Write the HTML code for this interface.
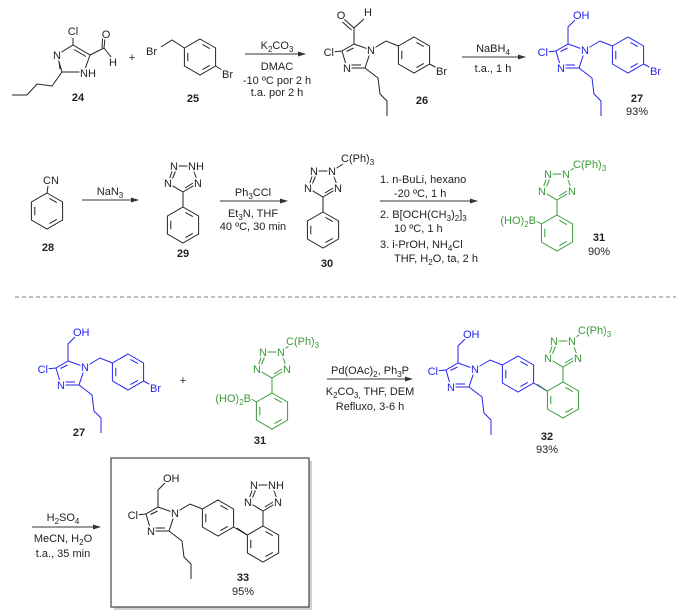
<!DOCTYPE html>
<html><head><meta charset="utf-8"><style>
html,body{margin:0;padding:0;background:#fff;}
svg{display:block;font-family:"Liberation Sans",Arial,sans-serif;}
.t{font-size:11px;fill:#222;}
.b{font-size:11px;font-weight:bold;fill:#222;}
.l{font-size:11px;stroke:#fff;stroke-width:3px;paint-order:stroke;fill:currentColor;}
.s{font-size:8px;}
</style></head><body>
<svg width="678" height="614" viewBox="0 0 678 614" xmlns="http://www.w3.org/2000/svg">
<defs>
<path id="hex" fill="none" stroke="currentColor" stroke-width="1" d="M0,-18 L15.6,-9 L15.6,9 L0,18 L-15.6,9 L-15.6,-9Z M2.4,-12.6 L9.8,-8.4 M9.8,8.4 L2.4,12.6 M-12.2,4.2 L-12.2,-4.2"/>
<g id="imcore" fill="none" stroke="currentColor" stroke-width="1">
<path d="M0,0 L17,6 L11,24 L-7,24 L-12,7 Z M-7.5,7.5 L-0.5,4 M7,21 L-3,21 M-12,7 L-22,8 M17,6 L32,-3 L44.4,2 M11,24 L24,34 L26,50 L33,57 L33,72"/>
<use href="#hex" x="60" y="11"/>
</g>
<g id="tet" fill="none" stroke="currentColor" stroke-width="1">
<path d="M0,0 L15,-9 L9,-26 L-9,-26 L-15,-9 Z M-11.5,-11 L-7,-22 M2,-4 L10,-9 M0,0 L0,15"/>
<use href="#hex" x="0" y="33"/>
</g>
<marker id="ar" markerWidth="8" markerHeight="6" refX="7" refY="3" orient="auto" markerUnits="userSpaceOnUse"><path d="M0,0.5 L8,3 L0,5.5Z" fill="#333"/></marker>
</defs>

<!-- 24 -->
<g color="#222" fill="none" stroke="#222" stroke-width="1">
<path d="M73,45 L90,55 L84,72 L62,72 L57,55 Z M74,49.5 L86,56.5 M60,69 L58.5,58 M73,45 L73,38 M90,55 L104,48 L105,38 M102,48 L102.5,38.5 M104,48 L111,57 M62,72 L52,86 L37,84 L27,95 L12,95"/>
</g>
<text class="l" x="73" y="35" text-anchor="middle" color="#222">Cl</text>
<text class="l" x="57" y="59" text-anchor="middle" color="#222">N</text>
<text class="l" x="80" y="77" color="#222">NH</text>
<text class="l" x="106" y="38" text-anchor="middle" color="#222">O</text>
<text class="l" x="113" y="66" text-anchor="middle" color="#222">H</text>
<text class="b" x="78" y="101" text-anchor="middle">24</text>
<text class="t" x="132" y="61" text-anchor="middle">+</text>

<!-- 25 -->
<g color="#222"><use href="#hex" x="200" y="57"/>
<path d="M161,47 L172,40 L184.4,48 M215.6,66 L222,70" stroke="#222" fill="none"/></g>
<text class="l" x="146" y="55" color="#222">Br</text>
<text class="l" x="222" y="78" color="#222">Br</text>
<text class="b" x="193" y="102" text-anchor="middle">25</text>

<line x1="245" y1="54" x2="305" y2="54" stroke="#333" marker-end="url(#ar)"/>
<text class="t" x="277" y="49" text-anchor="middle">K<tspan class="s" dy="3">2</tspan><tspan dy="-3">CO</tspan><tspan class="s" dy="3">3</tspan></text>
<text class="t" x="277" y="70" text-anchor="middle">DMAC</text>
<text class="t" x="277" y="84" text-anchor="middle">-10 ºC por 2 h</text>
<text class="t" x="277" y="96" text-anchor="middle">t.a. por 2 h</text>

<!-- 26 -->
<g transform="translate(354,44)" color="#222">
<use href="#imcore"/>
<path d="M0,0 L0,-16 L-10,-25 M-2.5,-14 L-11.5,-22 M0,-16 L10,-25 M75.6,20 L83,24" stroke="#222" fill="none"/>
<text class="l" x="17" y="10" text-anchor="middle">N</text>
<text class="l" x="-7" y="28" text-anchor="middle">N</text>
<text class="l" x="-20" y="12" text-anchor="end">Cl</text>
<text class="l" x="-13" y="-25" text-anchor="middle">O</text>
<text class="l" x="14" y="-28" text-anchor="middle">H</text>
<text class="l" x="82" y="31">Br</text>
</g>
<text class="b" x="422" y="104" text-anchor="middle">26</text>

<line x1="462" y1="57" x2="525" y2="57" stroke="#333" marker-end="url(#ar)"/>
<text class="t" x="493" y="52" text-anchor="middle">NaBH<tspan class="s" dy="3">4</tspan></text>
<text class="t" x="493" y="72" text-anchor="middle">t.a., 1 h</text>

<!-- 27 top -->
<g transform="translate(568,44)" color="#2424ee">
<use href="#imcore"/>
<path d="M0,0 L0,-17 L7,-24 M75.6,20 L83,24" stroke="currentColor" fill="none"/>
<text class="l" x="17" y="10" text-anchor="middle">N</text>
<text class="l" x="-7" y="28" text-anchor="middle">N</text>
<text class="l" x="-20" y="12" text-anchor="end">Cl</text>
<text class="l" x="5" y="-25">OH</text>
<text class="l" x="82" y="31">Br</text>
</g>
<text class="b" x="637" y="102" text-anchor="middle">27</text>
<text class="t" x="637" y="115" text-anchor="middle">93%</text>

<!-- 28 -->
<g color="#222"><use href="#hex" x="47" y="211"/><path d="M47,193 L48,186" stroke="#222"/></g>
<text class="l" x="51" y="184" text-anchor="middle" color="#222">CN</text>
<text class="b" x="48" y="251" text-anchor="middle">28</text>
<line x1="82" y1="200" x2="138" y2="200" stroke="#333" marker-end="url(#ar)"/>
<text class="t" x="110" y="195" text-anchor="middle">NaN<tspan class="s" dy="3">3</tspan></text>

<!-- 29 -->
<g transform="translate(183,192)" color="#222"><use href="#tet"/>
<text class="l" x="15" y="-5" text-anchor="middle">N</text>
<text class="l" x="5" y="-22">NH</text>
<text class="l" x="-9" y="-22" text-anchor="middle">N</text>
<text class="l" x="-15" y="-5" text-anchor="middle">N</text></g>
<text class="b" x="183" y="257" text-anchor="middle">29</text>

<line x1="220" y1="201" x2="287" y2="201" stroke="#333" marker-end="url(#ar)"/>
<text class="t" x="253" y="196" text-anchor="middle">Ph<tspan class="s" dy="3">3</tspan><tspan dy="-3">CCl</tspan></text>
<text class="t" x="253" y="217" text-anchor="middle">Et<tspan class="s" dy="3">3</tspan><tspan dy="-3">N, THF</tspan></text>
<text class="t" x="253" y="230" text-anchor="middle">40 ºC, 30 min</text>

<!-- 30 -->
<g transform="translate(323,197)" color="#222"><use href="#tet"/>
<path d="M9,-26 L20,-33" stroke="#222"/>
<text class="l" x="15" y="-5" text-anchor="middle">N</text>
<text class="l" x="9" y="-22" text-anchor="middle">N</text>
<text class="l" x="-9" y="-22" text-anchor="middle">N</text>
<text class="l" x="-15" y="-5" text-anchor="middle">N</text>
<text class="l" x="18" y="-35">C(Ph)<tspan class="s" dy="3">3</tspan></text></g>
<text class="b" x="327" y="267" text-anchor="middle">30</text>

<line x1="380" y1="201" x2="477" y2="201" stroke="#333" marker-end="url(#ar)"/>
<text class="t" x="380" y="183">1. n-BuLi, hexano</text>
<text class="t" x="394" y="197">-20 ºC, 1 h</text>
<text class="t" x="380" y="218">2. B[OCH(CH<tspan class="s" dy="3">3</tspan><tspan dy="-3">)</tspan><tspan class="s" dy="3">2</tspan><tspan dy="-3">]</tspan><tspan class="s" dy="3">3</tspan></text>
<text class="t" x="394" y="232">10 ºC, 1 h</text>
<text class="t" x="380" y="248">3. i-PrOH, NH<tspan class="s" dy="3">4</tspan><tspan dy="-3">Cl</tspan></text>
<text class="t" x="394" y="262">THF, H<tspan class="s" dy="3">2</tspan><tspan dy="-3">O, ta, 2 h</tspan></text>

<!-- 31 -->
<g transform="translate(557,200)" color="#3a9a3a"><use href="#tet"/>
<path d="M9,-26 L18,-33 M-15.6,24 L-24,19" stroke="currentColor"/>
<text class="l" x="15" y="-5" text-anchor="middle">N</text>
<text class="l" x="9" y="-22" text-anchor="middle">N</text>
<text class="l" x="-9" y="-22" text-anchor="middle">N</text>
<text class="l" x="-15" y="-5" text-anchor="middle">N</text>
<text class="l" x="16" y="-32">C(Ph)<tspan class="s" dy="3">3</tspan></text>
<text class="l" x="-21" y="24" text-anchor="end">(HO)<tspan class="s" dy="3">2</tspan><tspan dy="-3">B</tspan></text></g>
<text class="b" x="599" y="241" text-anchor="middle">31</text>
<text class="t" x="599" y="255" text-anchor="middle">90%</text>

<line x1="15" y1="297" x2="676" y2="297" stroke="#555" stroke-width="0.8" stroke-dasharray="4,3"/>

<!-- 27 row3 -->
<g transform="translate(68,361)" color="#2424ee">
<use href="#imcore"/>
<path d="M0,0 L0,-17 L7,-24 M75.6,20 L83,24" stroke="currentColor" fill="none"/>
<text class="l" x="17" y="10" text-anchor="middle">N</text>
<text class="l" x="-7" y="28" text-anchor="middle">N</text>
<text class="l" x="-20" y="12" text-anchor="end">Cl</text>
<text class="l" x="5" y="-25">OH</text>
<text class="l" x="82" y="31">Br</text>
</g>
<text class="b" x="79" y="436" text-anchor="middle">27</text>
<text class="t" x="183" y="384" text-anchor="middle">+</text>

<!-- 31 row3 -->
<g transform="translate(272,378)" color="#3a9a3a"><use href="#tet"/>
<path d="M9,-26 L18,-33 M-15.6,24 L-24,19" stroke="currentColor"/>
<text class="l" x="15" y="-5" text-anchor="middle">N</text>
<text class="l" x="9" y="-22" text-anchor="middle">N</text>
<text class="l" x="-9" y="-22" text-anchor="middle">N</text>
<text class="l" x="-15" y="-5" text-anchor="middle">N</text>
<text class="l" x="14" y="-33">C(Ph)<tspan class="s" dy="3">3</tspan></text>
<text class="l" x="-21" y="24" text-anchor="end">(HO)<tspan class="s" dy="3">2</tspan><tspan dy="-3">B</tspan></text></g>
<text class="b" x="260" y="444" text-anchor="middle">31</text>

<line x1="327" y1="379" x2="412" y2="379" stroke="#333" marker-end="url(#ar)"/>
<text class="t" x="370" y="374" text-anchor="middle">Pd(OAc)<tspan class="s" dy="3">2</tspan><tspan dy="-3">, Ph</tspan><tspan class="s" dy="3">3</tspan><tspan dy="-3">P</tspan></text>
<text class="t" x="370" y="395" text-anchor="middle">K<tspan class="s" dy="3">2</tspan><tspan dy="-3">CO</tspan><tspan class="s" dy="3">3,</tspan><tspan dy="-3"> THF, DEM</tspan></text>
<text class="t" x="370" y="410" text-anchor="middle">Refluxo, 3-6 h</text>

<!-- 32 -->
<g transform="translate(458,363)" color="#2424ee">
<use href="#imcore"/>
<path d="M0,0 L0,-17 L7,-24 M75.6,20 L89,28" stroke="currentColor" fill="none"/>
<text class="l" x="17" y="10" text-anchor="middle">N</text>
<text class="l" x="-7" y="28" text-anchor="middle">N</text>
<text class="l" x="-20" y="12" text-anchor="end">Cl</text>
<text class="l" x="5" y="-25">OH</text>
</g>
<g color="#3a9a3a"><use href="#hex" x="563" y="400"/></g>
<g transform="translate(563,367)" color="#3a9a3a">
<path d="M0,0 L15,-9 L9,-26 L-9,-26 L-15,-9 Z M-11.5,-11 L-7,-22 M2,-4 L10,-9 M0,0 L0,15 M9,-26 L17,-33 M-15.6,24 L-26,17" stroke="currentColor" fill="none"/>
<text class="l" x="15" y="-5" text-anchor="middle">N</text>
<text class="l" x="9" y="-22" text-anchor="middle">N</text>
<text class="l" x="-9" y="-22" text-anchor="middle">N</text>
<text class="l" x="-15" y="-5" text-anchor="middle">N</text>
<text class="l" x="15" y="-33">C(Ph)<tspan class="s" dy="3">3</tspan></text></g>
<text class="b" x="547" y="440" text-anchor="middle">32</text>
<text class="t" x="547" y="453" text-anchor="middle">93%</text>

<!-- final step -->
<line x1="32" y1="527" x2="100" y2="527" stroke="#333" marker-end="url(#ar)"/>
<text class="t" x="63" y="521" text-anchor="middle">H<tspan class="s" dy="3">2</tspan><tspan dy="-3">SO</tspan><tspan class="s" dy="3">4</tspan></text>
<text class="t" x="63" y="542" text-anchor="middle">MeCN, H<tspan class="s" dy="3">2</tspan><tspan dy="-3">O</tspan></text>
<text class="t" x="63" y="557" text-anchor="middle">t.a., 35 min</text>

<rect x="114" y="461" width="198" height="149" fill="#cfcfcf"/>
<rect x="111" y="458" width="198" height="149" fill="#fff" stroke="#444" stroke-width="1.2"/>

<!-- 33 -->
<g transform="translate(158,507)" color="#222">
<use href="#imcore"/>
<path d="M0,0 L0,-17 L7,-24 M75.6,20 L89,28" stroke="#222" fill="none"/>
<text class="l" x="17" y="10" text-anchor="middle">N</text>
<text class="l" x="-7" y="28" text-anchor="middle">N</text>
<text class="l" x="-20" y="12" text-anchor="end">Cl</text>
<text class="l" x="5" y="-25">OH</text>
</g>
<g color="#222"><use href="#hex" x="263" y="544"/></g>
<g transform="translate(263,511)" color="#222">
<path d="M0,0 L15,-9 L9,-26 L-9,-26 L-15,-9 Z M-11.5,-11 L-7,-22 M2,-4 L10,-9 M0,0 L0,15 M-15.6,24 L-26,17" stroke="#222" fill="none"/>
<text class="l" x="15" y="-5" text-anchor="middle">N</text>
<text class="l" x="5" y="-22">NH</text>
<text class="l" x="-9" y="-22" text-anchor="middle">N</text>
<text class="l" x="-15" y="-5" text-anchor="middle">N</text></g>
<text class="b" x="243" y="581" text-anchor="middle">33</text>
<text class="t" x="243" y="595" text-anchor="middle">95%</text>
</svg>
</body></html>
